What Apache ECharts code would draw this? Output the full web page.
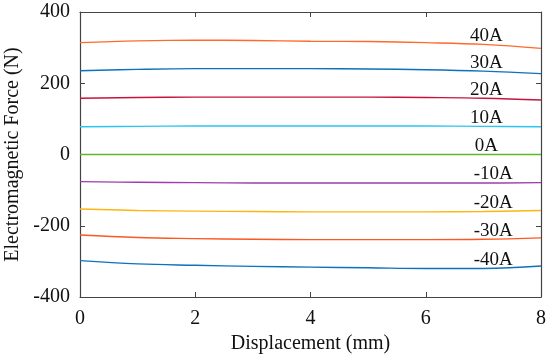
<!DOCTYPE html>
<html><head><meta charset="utf-8">
<script src="https://cdn.jsdelivr.net/npm/echarts@6/dist/echarts.min.js"></script>
<style>html,body{margin:0;padding:0;background:#fff}#c{width:550px;height:363px}</style>
</head><body><div id="c"></div>
<script>
const displacement = [0, 1, 2, 3, 4, 5, 6, 7, 8];
const xTicks = [0, 2, 4, 6, 8];
const yTicks = [-400, -200, 0, 200, 400];
const currents = ['40A','30A','20A','10A','0A','-10A','-20A','-30A','-40A'];
const f40  = [314, 319, 321, 320, 318, 317, 314, 309, 298];
const f30  = [235, 239, 241, 241, 241, 240, 238, 234, 227];
const f20  = [158, 160, 161, 161, 161, 161, 160, 158, 153];
const f10  = [78, 79, 80, 80, 80, 80, 80, 79, 78];
const f0   = [0, 0, 0, 0, 0, 0, 0, 0, 0];
const fm10 = [-76, -78, -79, -80, -80, -80, -80, -80, -79];
const fm20 = [-153, -157, -159, -160, -161, -161, -161, -160, -157];
const fm30 = [-226, -233, -236, -238, -239, -239, -239, -238, -234];
const fm40 = [-298, -307, -311, -314, -316, -318, -320, -320, -313];
const seriesValues = [f40, f30, f20, f10, f0, fm10, fm20, fm30, fm40];
const colors = ['#FF6A2A','#0B72BD','#C8143C','#2CC4F0','#5BB82A','#A03CB0','#FDB515','#FF5722','#0B72BD'];

const font = 'Liberation Serif';
const axisColor = '#444';
const chart = echarts.init(document.getElementById('c'), null, {renderer:'canvas'});

const series = currents.map((name, i) => {
  const vals = seriesValues[i];
  const neg = name.startsWith('-');
  return {
    name, type: 'line', smooth: 0.4, showSymbol: false, symbol: 'none',
    lineStyle: {width: 1.4, color: colors[i]}, itemStyle: {color: colors[i]},
    data: displacement.map((x, k) => [x, vals[k]]),
    markPoint: {
      symbol: 'circle', symbolSize: 0, silent: true,
      label: {show: true, formatter: name, color: '#111', fontFamily: font, fontSize: 19,
        position: 'inside', offset: [neg ? 7 : 0, -8.5]},
      data: [{coord: [7.05, vals[7]]}]
    }
  };
});

const baseX = {
  type: 'value', min: 0, max: 8, interval: 2,
  axisLine: {show: true, onZero: false, lineStyle: {color: axisColor, width: 1.2}},
  axisTick: {show: true, inside: true, length: 5, lineStyle: {color: axisColor}},
  splitLine: {show: false}
};
const baseY = {
  type: 'value', min: -400, max: 400, interval: 200,
  axisLine: {show: true, onZero: false, lineStyle: {color: axisColor, width: 1.2}},
  axisTick: {show: true, inside: true, length: 5, lineStyle: {color: axisColor}},
  splitLine: {show: false}
};

chart.setOption({
  animation: false,
  backgroundColor: '#fff',
  grid: {left: 80, right: 9, top: 12, bottom: 66, containLabel: false, outerBoundsMode: 'none'},
  xAxis: [
    Object.assign({}, baseX, {position: 'bottom',
      name: 'Displacement (mm)', nameLocation: 'middle', nameGap: 31,
      nameTextStyle: {fontFamily: font, fontSize: 20, color: '#111'},
      axisLabel: {fontFamily: font, fontSize: 20, color: '#111', margin: 12,
        formatter: v => xTicks.includes(v) ? String(v) : ''}}),
    Object.assign({}, baseX, {position: 'top', axisLabel: {show: false}})
  ],
  yAxis: [
    Object.assign({}, baseY, {position: 'left',
      name: 'Electromagnetic Force (N)', nameLocation: 'middle', nameGap: 56,
      nameTextStyle: {fontFamily: font, fontSize: 20, color: '#111'},
      axisLabel: {fontFamily: font, fontSize: 20, color: '#111', margin: 10,
        formatter: v => yTicks.includes(v) ? String(v) : ''}}),
    Object.assign({}, baseY, {position: 'right', axisLabel: {show: false}})
  ],
  series
});
</script></body></html>
